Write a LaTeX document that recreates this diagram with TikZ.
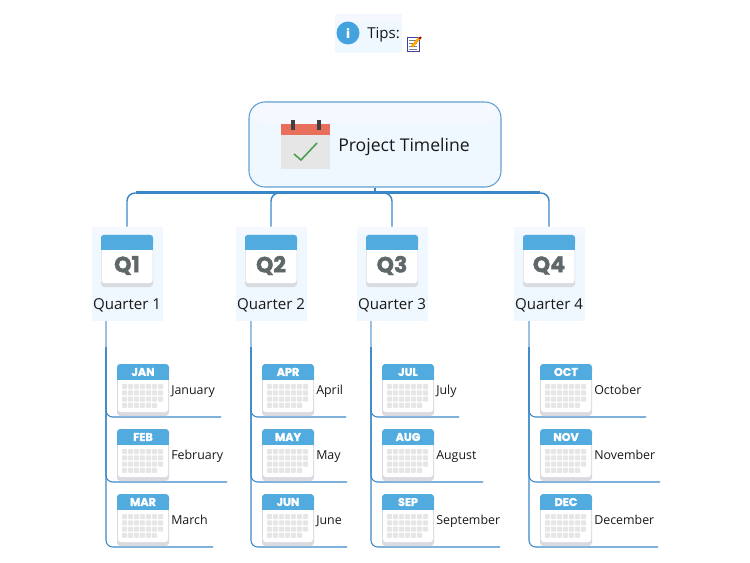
\documentclass[tikz,border=0pt]{standalone}
\usepackage{fontspec}
\setmainfont{Open Sans}
\newfontfamily\calfont[BoldFeatures={FakeBold=1.6}]{Poppins}
\usetikzlibrary{positioning,calc}
\definecolor{linkblue}{HTML}{3A87C8}
\definecolor{palelink}{HTML}{9CC2E3}
\definecolor{boxfill}{HTML}{EFF7FF}
\definecolor{boxband}{HTML}{F5F8FF}
\definecolor{calblue}{HTML}{52ABDF}
\definecolor{calgrey}{HTML}{E6E6E6}
\definecolor{calshade}{HTML}{DADBE0}
\definecolor{calred}{HTML}{E96F5D}
\definecolor{checkgreen}{HTML}{4C9F50}
\definecolor{tipblue}{HTML}{43A3DE}
\definecolor{qgrey}{HTML}{5F6769}
\tikzset{
	tintbox/.style={fill=boxfill,inner sep=0pt,path picture={
		\fill[boxband] (path picture bounding box.north west) rectangle ($(path picture bounding box.north east)+(0,#1)$);}},
	rootbox/.style={draw=linkblue!80,line width=0.8pt,rounded corners=12pt,tintbox=21,minimum width=189pt,minimum height=63.75pt},
	quarterbox/.style={tintbox=7,minimum width=53.25pt,minimum height=70.5pt},
	branch/.style={linkblue,line width=1.1pt,rounded corners=6pt},
	leaf/.style={linkblue,line width=0.8pt,rounded corners=5pt},
	monthtext/.style={anchor=base west,inner sep=0pt,font=\fontsize{9.3}{11}\selectfont,text=black!90},
	quartertext/.style={anchor=base,inner sep=0pt,font=\fontsize{11.3}{13}\selectfont,text=black!90}
}
% month sheet, #1 #2 is the top left corner
\newcommand{\monthsheet}[3]{
	\begin{scope}[shift={(#1,#2)}]
		\fill[calshade,rounded corners=2.5pt] (0,0) rectangle (52,52);
		\fill[white,rounded corners=2pt] (1,0) rectangle (51,48);
		\fill[calblue,rounded corners=2.5pt] (0,0) rectangle (52,10);
		\fill[calblue] (0,6) rectangle (52,16);
		\node[white,inner sep=0pt,font=\calfont\bfseries\fontsize{8.4}{9}\selectfont] at (26,8) {#3};
		\foreach \row in {0,1,2}
			\foreach \col in {0,...,6}
				\fill[calgrey,rounded corners=0.6pt] (5+6*\col,20+6.3*\row) rectangle +(5,5);
		\foreach \col in {0,...,5}
			\fill[calgrey,rounded corners=0.6pt] (5+6*\col,38.9) rectangle +(5,5);
	\end{scope}
}
% quarter sheet, same idea with a larger face
\newcommand{\quartersheet}[3]{
	\begin{scope}[shift={(#1,#2)}]
		\fill[calshade,rounded corners=2.5pt] (0,0) rectangle (52,52);
		\fill[white,rounded corners=2pt] (0.5,0) rectangle (51.5,48);
		\fill[calblue,rounded corners=2pt] (0,0) rectangle (52,10);
		\fill[calblue] (0,6) rectangle (52,15);
		\node[qgrey,inner sep=0pt,font=\calfont\bfseries\fontsize{16.5}{18}\selectfont] at (26,30.5) {#3};
	\end{scope}
}
\begin{document}
\begin{tikzpicture}[x=0.75pt,y=-0.75pt]
	\useasboundingbox (0,0) rectangle (750,563);
	% tips
	\node[tintbox=8,minimum width=50.25pt,minimum height=29.25pt] (tips) at (368.5,33.5) {};
	\node[circle,fill=tipblue,minimum size=17.25pt,inner sep=0pt,text=white,font=\calfont\bfseries\fontsize{9}{10}\selectfont] (tipsicon) at (348,33) {i};
	\node[anchor=base west,inner sep=0pt,font=\fontsize{11.3}{13}\selectfont,text=black!90] (tipstext) at (367,39) {Tips:};
	\begin{scope}[shift={(407,36)}]
		\draw[blue!55!black!75,fill=white,line width=0.7pt] (0,1) rectangle (12,15);
		\foreach \row in {4,7,10,13}
			\draw[gray,line width=0.4pt] (2,\row) -- (10,\row);
		\draw[orange!70!yellow,line width=2pt] (5,10.5) -- (12.5,2);
		\fill[red!70!black] (11.7,2.5) -- (13.2,0.5) -- (14.6,1.5) -- (13.3,3.5) -- cycle;
	\end{scope}
	% root
	\node[rootbox] (root) at (375,144.5) {};
	\fill[calgrey] (281,124) rectangle (330,169);
	\fill[calred] (281,124) rectangle (330,135);
	\foreach \ringx in {292.5,319}
		\fill[black!75] (\ringx-2,120) rectangle (\ringx+2,130);
	\draw[checkgreen,line width=1.2pt] (294,154) -- (301,160) -- (317,143);
	\node[anchor=base west,inner sep=0pt,font=\fontsize{13.2}{16}\selectfont,text=black!90] (title) at (338,151.5) {Project Timeline};
	% quarters
	\coordinate (bus) at (375,193);
	\draw[linkblue,line width=1.1pt] (root.south) -- (bus);
	\foreach \qname/\qx/\trunkx in {Q1/127/106,Q2/271/251,Q3/392/371,Q4/549/529} {
		\node[quarterbox] (\qname) at (\qx,274) {};
		\quartersheet{\qx-26}{235}{\qname}
		\coordinate (trunk\qname) at (\trunkx,347);
		\draw[palelink,line width=0.9pt] (\qname.south -| trunk\qname) -- (trunk\qname);
		\draw[branch] (bus) -| (\qname.north);
	}
	\node[quartertext] (labelQ1) at (127,309) {Quarter 1};
	\node[quartertext] (labelQ2) at (271,309) {Quarter 2};
	\node[quartertext] (labelQ3) at (392,309) {Quarter 3};
	\node[quartertext] (labelQ4) at (549,309) {Quarter 4};
	\coordinate (barL) at (136,192.5);
	\coordinate (barR) at (540,192.5);
	\draw[linkblue,line width=2.2pt] (barL) -- (barR);
	% months
	\foreach \qname/\sheetx/\mshort/\mlong/\topy/\linex in {
		Q1/117/JAN/January/364/221,Q1/117/FEB/February/429/227,Q1/117/MAR/March/494/213,
		Q2/262/APR/April/364/346,Q2/262/MAY/May/429/347,Q2/262/JUN/June/494/347,
		Q3/382/JUL/July/364/459,Q3/382/AUG/August/429/483,Q3/382/SEP/September/494/500,
		Q4/540/OCT/October/364/646,Q4/540/NOV/November/429/660,Q4/540/DEC/December/494/658} {
		\coordinate (end\mshort) at (\linex,\topy+53);
		\draw[leaf] (trunk\qname) |- (end\mshort);
		\monthsheet{\sheetx}{\topy}{\mshort}
		\node[monthtext] (\mshort) at (\sheetx+54,\topy+30) {\mlong};
	}
\end{tikzpicture}
\end{document}
